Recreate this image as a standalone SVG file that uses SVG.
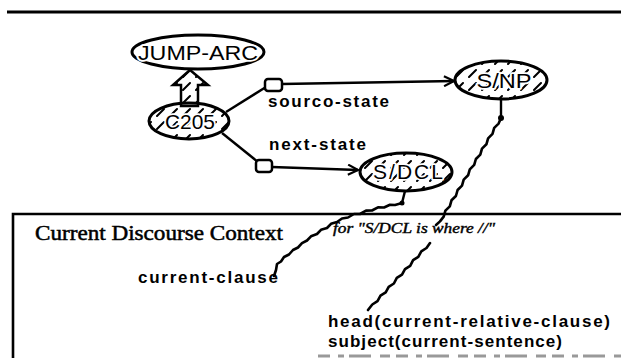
<svg xmlns="http://www.w3.org/2000/svg" width="621" height="358" viewBox="0 0 621 358">
<defs>
<pattern id="hatch" patternUnits="userSpaceOnUse" width="13" height="13">
<path d="M1,12 L8,5" stroke="#000" stroke-width="2" fill="none" stroke-linecap="round"/>
</pattern>
<marker id="arr" viewBox="0 0 12 12" refX="11" refY="6" markerWidth="12" markerHeight="12" markerUnits="userSpaceOnUse" orient="auto">
<path d="M1,1 L11,6 L1,11" fill="none" stroke="#000" stroke-width="2.2"/>
</marker>
<style>
.node{stroke:#000;stroke-width:3}
.hatched{fill:url(#hatch)}
.plain{fill:#fff}
.nlab{font-family:"Liberation Sans",Arial,sans-serif;font-size:21px;fill:#000;text-anchor:middle;stroke:#fff;stroke-width:3.5px;paint-order:stroke;stroke-linejoin:round}
.lab{font-family:"Liberation Sans",Arial,sans-serif;font-size:17px;font-weight:bold;fill:#000}
.con{stroke:#000;stroke-width:2.4;fill:none}
.wig{stroke:#000;stroke-width:2.6;fill:none;stroke-linejoin:round;stroke-linecap:round}
.box{fill:#fff;stroke:#000;stroke-width:2.5}
</style>
</defs>
<rect width="621" height="358" fill="#fff"/>
<line x1="7" y1="12" x2="621" y2="12" stroke="#000" stroke-width="3"/>
<g id="context-frame">
<path d="M13,358 L13,214 L621,214" fill="none" stroke="#000" stroke-width="2.6"/>
<text x="35" y="240" textLength="248" lengthAdjust="spacingAndGlyphs" style="font-family:'Liberation Serif','Times New Roman',serif;font-size:21px;fill:#000;stroke:#000;stroke-width:0.5">Current Discourse Context</text>
<text x="333" y="233" textLength="162" lengthAdjust="spacingAndGlyphs" style="font-family:'Liberation Serif','Times New Roman',serif;font-size:14px;font-style:italic;fill:#000;stroke:#000;stroke-width:0.4">for "S/DCL is where //"</text>
<line x1="318" y1="356" x2="621" y2="356" stroke="#999" stroke-width="3" stroke-dasharray="12 8 6 5 22 9 10 6"/>
</g>
<g id="connectors">
<polygon points="190,70 208,85 198,85 198,106 181,106 181,85 173,85" class="hatched" stroke="#000" stroke-width="2.5"/>
<line class="con" x1="226" y1="112" x2="266" y2="87"/>
<line class="con" x1="282" y1="84" x2="454" y2="81" marker-end="url(#arr)"/>
<rect class="box" x="265" y="79" width="17" height="12" rx="3"/>
<line class="con" x1="222" y1="133" x2="258" y2="162"/>
<line class="con" x1="272" y1="167" x2="358" y2="170" marker-end="url(#arr)"/>
<rect class="box" x="256" y="160" width="16" height="12" rx="3"/>
<line class="con" x1="501" y1="100" x2="501" y2="118"/>
<circle cx="501" cy="118" r="3"/>
<polyline class="wig" points="501,118 498.6,123.6 494.2,127.9 492.5,133.9 488.1,138.3 486.4,144.3 482,148.6 480.3,154.6 475.9,159 474.2,164.9 469.8,169.3 468.1,175.3 463.7,179.6 462,185.6 457.6,190 455.9,196 451.5,200.3 449.8,206.3 445.4,210.7 443.7,216.6 440,221.4 436,225"/>
<polyline class="wig" points="430,243 426.5,248 421.3,251.3 418.3,256.9 413.1,260.2 410.2,265.8 405,269.1 402,274.6 396.8,277.9 393.9,283.5 388.7,286.8 385.7,292.4 380.5,295.7 377.5,301.2 372.3,304.5 368,310"/>
<line class="con" x1="405" y1="191" x2="402" y2="203"/>
<circle cx="402" cy="203" r="2.5"/>
<polyline class="wig" points="402,203 395,205 390,204.8 384,207.5 378,207.4 372,210.5 366,210.6 360,214 354,214 348,217.5 342,218.5 337,222 331,223.8 327,228 321,229.8 317,234 311,236.3 307,240.5 302,243.2 298,247.5 293,250 289,254.5 284,257 281,261.5 277,264 276,270 274,276"/>
</g>
<g id="jump-arc">
<ellipse class="node plain" cx="198" cy="52" rx="66" ry="17"/>
<text class="nlab" x="198" y="60" textLength="120" lengthAdjust="spacingAndGlyphs">JUMP-ARC</text>
</g>
<g id="c205">
<ellipse class="node hatched" cx="189" cy="121" rx="40" ry="18"/>
<text class="nlab" x="190" y="129" textLength="50" lengthAdjust="spacingAndGlyphs">C205</text>
</g>
<g id="s-np">
<ellipse class="node hatched" cx="501" cy="80" rx="46" ry="19"/>
<text class="nlab" x="504" y="88" textLength="55" lengthAdjust="spacingAndGlyphs">S/NP</text>
</g>
<g id="s-dcl">
<ellipse class="node hatched" cx="406" cy="172" rx="46" ry="19"/>
<text class="nlab" x="408" y="179" textLength="70" lengthAdjust="spacing">S/DCL</text>
</g>
<g id="labels">
<text class="lab" x="268" y="107" textLength="121" lengthAdjust="spacing">sourco-state</text>
<text class="lab" x="269" y="150" textLength="97" lengthAdjust="spacing">next-state</text>
<text class="lab" x="138" y="283" textLength="140" lengthAdjust="spacing">current-clause</text>
<text class="lab" x="328" y="327" textLength="282" lengthAdjust="spacing">head(current-relative-clause)</text>
<text class="lab" x="328" y="347" textLength="234" lengthAdjust="spacing">subject(current-sentence)</text>
</g>
</svg>
